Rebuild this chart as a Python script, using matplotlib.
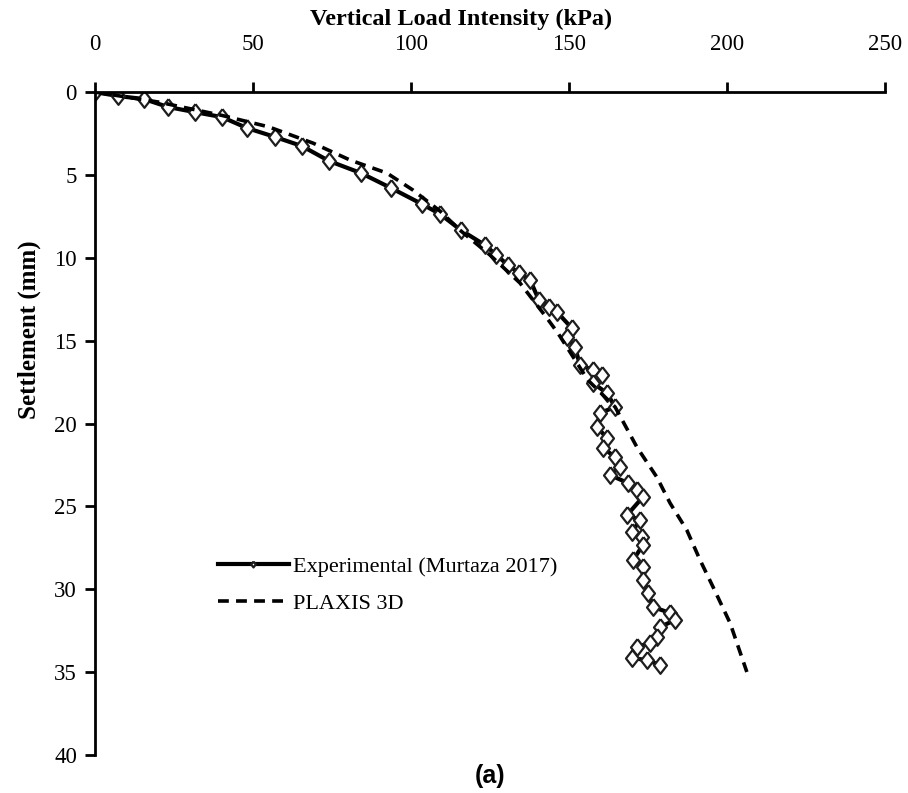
import matplotlib
matplotlib.use("Agg")
import matplotlib.pyplot as plt

plt.rcParams["font.family"] = "serif"
plt.rcParams["font.serif"] = ["Liberation Serif", "DejaVu Serif"]

# Experimental (Murtaza 2017): load (kPa) vs settlement (mm)
exp_load = [0, 7.3, 15.5, 23.1, 31.6, 40.2, 48.1, 57.0, 65.5, 74.1, 84.2, 93.7,
            103.5, 109.2, 115.8, 123.4, 127.0, 130.7, 134.2, 137.7, 140.5, 143.7,
            146.2, 150.9, 149.4, 151.9, 153.5, 157.6, 160.5, 157.6, 162.0, 164.6,
            159.8, 158.9, 162.0, 160.8, 164.6, 166.1, 163.0, 168.7, 171.5, 173.4,
            168.4, 172.5, 169.9, 173.1, 173.4, 170.3, 173.4, 173.4, 175.0, 176.6,
            182.0, 183.5, 178.8, 177.8, 175.6, 171.5, 169.9, 174.7, 178.8]
exp_settle = [0, 0.24, 0.42, 0.90, 1.21, 1.51, 2.17, 2.71, 3.26, 4.16, 4.89, 5.79,
              6.76, 7.36, 8.33, 9.23, 9.83, 10.44, 10.92, 11.34, 12.55, 12.97,
              13.27, 14.24, 14.78, 15.39, 16.47, 16.77, 17.10, 17.56, 18.16, 19.0,
              19.37, 20.21, 20.87, 21.48, 22.02, 22.62, 23.11, 23.59, 24.01, 24.43,
              25.52, 25.82, 26.55, 26.85, 27.33, 28.24, 28.66, 29.44, 30.23, 31.07,
              31.43, 31.86, 32.28, 32.88, 33.24, 33.48, 34.15, 34.27, 34.57]

# PLAXIS 3D
plx_load = [0, 10, 20, 30, 40, 55, 69.0, 80.7, 92.4, 100.6, 109.2, 115.5, 125.0,
            134.5, 143.0, 146.5, 156.0, 164.6, 171.5, 177.8, 182.0, 187.3, 191.5,
            195.6, 201.0, 206.3]
plx_settle = [0, 0.3, 0.6, 1.0, 1.4, 2.1, 3.08, 4.10, 4.89, 5.91, 7.18, 8.33, 9.83,
              11.52, 13.63, 14.54, 17.38, 19.0, 21.42, 23.23, 24.80, 26.43, 28.24,
              29.86, 32.04, 34.99]

# diamond slightly taller than wide, like the Excel marker
DIAMOND = [(0, 1), (0.78, 0), (0, -1), (-0.78, 0), (0, 1)]

fig = plt.figure(figsize=(9.08, 7.93), dpi=100)
ax = fig.add_axes([0.1046, 0.0479, 0.870, 0.836])

ax.plot(exp_load, exp_settle, color="black", lw=3, marker=DIAMOND, ms=12,
        mfc="white", mec="#1e1e1e", mew=1.6, label="Experimental (Murtaza 2017)")
ax.plot(plx_load, plx_settle, color="black", lw=2.6, ls=(0, (3, 2)),
        label="PLAXIS 3D")

ax.set_xlim(0, 250)
ax.set_ylim(40, 0)
ax.xaxis.tick_top()
ax.xaxis.set_label_position("top")
ax.set_xticks([0, 50, 100, 150, 200, 250])
ax.set_yticks([0, 5, 10, 15, 20, 25, 30, 35, 40])
ax.tick_params(axis="both", direction="out", length=7, width=2, labelsize=16.5)
ax.tick_params(axis="x", pad=20)
ax.tick_params(axis="y", pad=6)
for s in ("right", "bottom"):
    ax.spines[s].set_visible(False)
for s in ("top", "left"):
    ax.spines[s].set_linewidth(2)

ax.set_xlabel("Vertical Load Intensity (kPa)", fontsize=17.5, fontweight="bold")
ax.xaxis.set_label_coords(0.463, 1.109)
ax.xaxis.label.set_va("center")
ax.set_ylabel("Settlement (mm)", fontsize=18, fontweight="bold")
ax.yaxis.set_label_coords(-0.083, 0.641)
ax.yaxis.label.set_va("center")

leg = ax.legend(loc="upper left", bbox_to_anchor=(0.13, 0.33), frameon=False,
                fontsize=16, handlelength=3.2, handletextpad=0.2, labelspacing=0.75,
                markerscale=0.35)

fig.text(0.54, 0.022, "(a)", fontsize=18, fontweight="bold",
         family="Liberation Sans", ha="center", va="center")

fig.savefig("out.png", dpi=100, facecolor="white")
